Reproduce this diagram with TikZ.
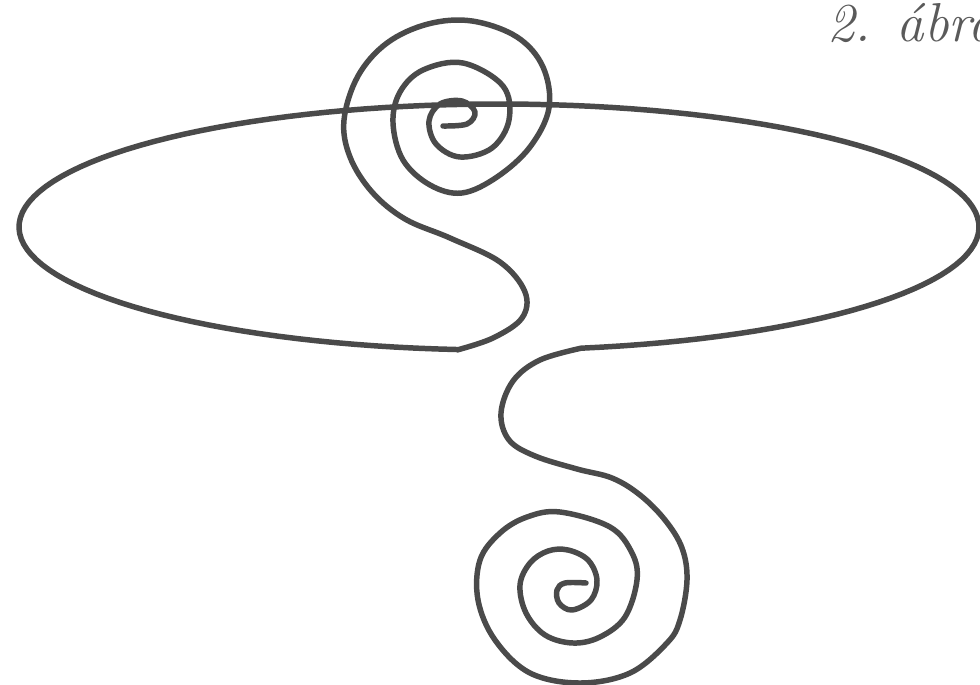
\documentclass[tikz,border=0pt]{standalone}
\usepackage{fontspec}
\definecolor{wirecol}{HTML}{4A4A4A}
\definecolor{textcol}{HTML}{5A5A5A}
\begin{document}
\begin{tikzpicture}[x=0.25mm,y=-0.25mm,
  wire/.style={draw=wirecol, line width=3.9pt, line cap=round, line join=round}]
\useasboundingbox (0,0) rectangle (980,685);
\clip (0,0) rectangle (980,685);
\node[anchor=base west, text=textcol, inner sep=0pt,
  font=\fontsize{39}{45}\selectfont\itshape] (caption) at (827,42) {2. ábra};
\draw[wire]
  plot[smooth, tension=0.6] coordinates {
    (443,126) (467,124) (475,112) (462,101) (440,104) (429,121) (436,144)
    (460,157) (492,148) (509,120) (503,86) (463,63) (423,70) (400,92)
    (393,123) (403,160) (430,185) (462,193) (497,177) (530,147) (549,108)
    (543,67) (517,37) (472,21) (428,24) (387,43) (358,76) (344,120)
    (350,157) (372,192) (405,219) (450,238) (500,262) (525,292) (522,318)
    (493,338) (457,350)}
  -- plot[domain=95:440, samples=140, variable=\t]
    ({499+480*cos(\t)},{227+123*sin(\t)})
  -- plot[smooth, tension=0.6] coordinates {
    (582,348) (540,360) (513,381) (501,413) (509,440) (535,456) (577,469)
    (612,478) (640,495) (665,520) (682,548) (687,580) (680,620) (667,643)
    (630,673) (580,683) (530,673) (495,640) (478,600) (480,560) (500,533)
    (527,517) (560,512) (610,527) (632,553) (637,580) (625,617) (600,637)
    (573,643) (545,635) (526,613) (520,585) (530,563) (548,551) (568,550)
    (588,560) (597,580) (591,600) (572,610) (559,603) (557,590) (565,583)
    (586,583)};
\end{tikzpicture}
\end{document}
